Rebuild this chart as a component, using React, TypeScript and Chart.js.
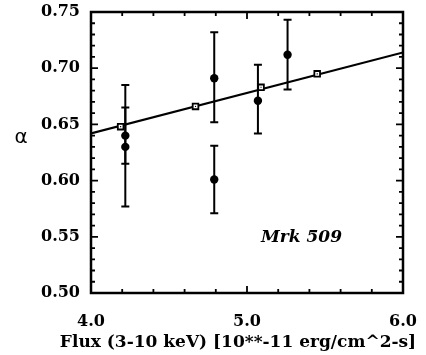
import React, { useEffect, useRef } from 'react';
import { Chart, registerables } from 'chart.js';

Chart.register(...registerables);

// Observed points (flux, alpha, error-bar limits)
const fluxObs = [4.22, 4.22, 4.79, 4.79, 5.07, 5.26];
const alphaObs = [0.640, 0.630, 0.691, 0.601, 0.671, 0.712];
const alphaLo = [0.615, 0.577, 0.652, 0.571, 0.642, 0.681];
const alphaHi = [0.665, 0.685, 0.732, 0.631, 0.703, 0.743];

// Model points on the fit line (open squares)
const fluxModel = [4.19, 4.67, 5.09, 5.45];
const alphaModel = [0.648, 0.666, 0.683, 0.695];

// Fit line end points
const fitFlux = [4.0, 6.0];
const fitAlpha = [0.642, 0.714];

const xTickValues = [4.0, 5.0, 6.0];
const yTickValues = [0.50, 0.55, 0.60, 0.65, 0.70, 0.75];
const xMinorStep = 0.2;
const yMinorStep = 0.01;

const xTitle = 'Flux (3-10 keV) [10**-11 erg/cm^2-s]';
const yTitle = 'α';
const sourceLabel = 'Mrk 509';

const SERIF = "'DejaVu Serif', 'Liberation Serif', serif";

const errorBarPlugin = {
  id: 'errorBars',
  beforeDatasetsDraw(chart: any) {
    const { ctx, scales } = chart;
    const xs = scales.x;
    const ys = scales.y;
    ctx.save();
    ctx.strokeStyle = '#000';
    ctx.lineWidth = 2;
    ctx.lineCap = 'butt';
    for (let i = 0; i < fluxObs.length; i++) {
      const px = xs.getPixelForValue(fluxObs[i]);
      const pLo = ys.getPixelForValue(alphaLo[i]);
      const pHi = ys.getPixelForValue(alphaHi[i]);
      const cap = 4;
      ctx.beginPath();
      ctx.moveTo(px, pLo);
      ctx.lineTo(px, pHi);
      ctx.moveTo(px - cap, pLo);
      ctx.lineTo(px + cap, pLo);
      ctx.moveTo(px - cap, pHi);
      ctx.lineTo(px + cap, pHi);
      ctx.stroke();
    }
    ctx.restore();
  },
};

const framePlugin = {
  id: 'frame',
  afterDatasetsDraw(chart: any) {
    const { ctx, chartArea, scales } = chart;
    const { left, right, top, bottom } = chartArea;
    const xs = scales.x;
    const ys = scales.y;
    ctx.save();
    ctx.strokeStyle = '#000';
    ctx.lineWidth = 2.5;
    ctx.strokeRect(left, top, right - left, bottom - top);

    ctx.lineWidth = 1.8;
    ctx.beginPath();
    const nx = Math.round((xs.max - xs.min) / xMinorStep);
    for (let k = 1; k < nx; k++) {
      const v = xs.min + k * xMinorStep;
      const px = xs.getPixelForValue(v);
      const major = Math.abs(v - Math.round(v)) < 1e-6;
      const len = major ? 7 : 4;
      ctx.moveTo(px, bottom);
      ctx.lineTo(px, bottom - len);
      ctx.moveTo(px, top);
      ctx.lineTo(px, top + len);
    }
    const ny = Math.round((ys.max - ys.min) / yMinorStep);
    for (let k = 1; k < ny; k++) {
      const v = ys.min + k * yMinorStep;
      const py = ys.getPixelForValue(v);
      const major = k % 5 === 0;
      const len = major ? 7 : 4;
      ctx.moveTo(left, py);
      ctx.lineTo(left + len, py);
      ctx.moveTo(right, py);
      ctx.lineTo(right - len, py);
    }
    ctx.stroke();

    ctx.fillStyle = '#000';
    ctx.font = "20px 'DejaVu Sans', sans-serif";
    ctx.textAlign = 'center';
    ctx.textBaseline = 'middle';
    ctx.fillText(yTitle, 21, ys.getPixelForValue(0.638));

    ctx.font = `italic bold 17px ${SERIF}`;
    ctx.textAlign = 'left';
    ctx.textBaseline = 'alphabetic';
    ctx.fillText(sourceLabel, xs.getPixelForValue(5.09), ys.getPixelForValue(0.545));

    ctx.font = `bold 17px ${SERIF}`;
    ctx.textAlign = 'center';
    ctx.textBaseline = 'middle';
    ctx.fillText(xTitle, 238, bottom + 50);
    ctx.restore();
  },
};

export default function App() {
  const canvasRef = useRef<HTMLCanvasElement | null>(null);

  useEffect(() => {
    if (!canvasRef.current) return;
    const chart = new Chart(canvasRef.current, {
      type: 'scatter',
      data: {
        datasets: [
          {
            type: 'line',
            label: 'fit',
            data: fitFlux.map((x, i) => ({ x, y: fitAlpha[i] })),
            borderColor: '#000',
            borderWidth: 2.2,
            pointRadius: 0,
            fill: false,
            order: 3,
          },
          {
            label: 'observed',
            data: fluxObs.map((x, i) => ({ x, y: alphaObs[i] })),
            pointStyle: 'circle',
            pointRadius: 4.2,
            backgroundColor: '#000',
            borderColor: '#000',
            borderWidth: 0,
            order: 2,
          },
          {
            label: 'model',
            data: fluxModel.map((x, i) => ({ x, y: alphaModel[i] })),
            pointStyle: 'rect',
            pointRadius: 4,
            backgroundColor: '#fff',
            borderColor: '#000',
            borderWidth: 1.8,
            order: 1,
          },
          {
            label: 'model-dot',
            data: fluxModel.map((x, i) => ({ x, y: alphaModel[i] })),
            pointStyle: 'rect',
            pointRadius: 0.8,
            backgroundColor: '#000',
            borderColor: '#000',
            borderWidth: 0,
            order: 0,
          },
        ],
      },
      options: {
        animation: false,
        responsive: true,
        maintainAspectRatio: false,
        layout: { padding: { left: 0, right: 23, top: 12, bottom: 0 } },
        plugins: {
          legend: { display: false },
          tooltip: { enabled: false },
        },
        scales: {
          x: {
            type: 'linear',
            min: 4.0,
            max: 6.0,
            afterFit: (s: any) => {
              s.height = 62;
              s.paddingLeft = 0;
              s.paddingRight = 0;
            },
            afterBuildTicks: (s: any) => { s.ticks = xTickValues.map((v) => ({ value: v })); },
            grid: { display: false, drawTicks: false },
            border: { display: false },
            ticks: {
              color: '#000',
              padding: 19,
              font: { family: SERIF, size: 16, weight: 'bold' },
              callback: (v: any) => Number(v).toFixed(1),
            },
          },
          y: {
            type: 'linear',
            min: 0.5,
            max: 0.75,
            afterFit: (s: any) => {
              s.width = 91;
              s.paddingTop = 0;
              s.paddingBottom = 0;
            },
            afterBuildTicks: (s: any) => { s.ticks = yTickValues.map((v) => ({ value: v })); },
            grid: { display: false, drawTicks: false },
            border: { display: false },
            ticks: {
              color: '#000',
              padding: 11,
              font: { family: SERIF, size: 16, weight: 'bold' },
              callback: (v: any) => Number(v).toFixed(2),
            },
          },
        },
      },
      plugins: [errorBarPlugin, framePlugin],
    });
    return () => chart.destroy();
  }, []);

  return (
    <div style={{ position: 'fixed', left: 0, top: 0, width: 426, height: 355, background: '#fff' }}>
      <canvas ref={canvasRef} />
    </div>
  );
}
